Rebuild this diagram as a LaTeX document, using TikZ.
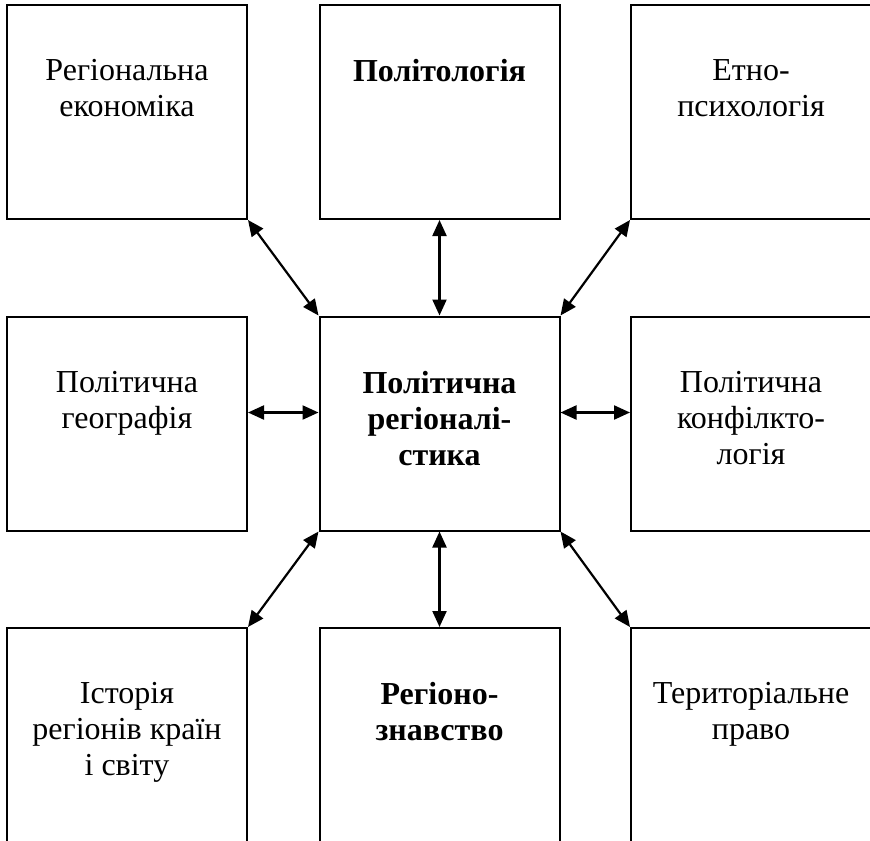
\documentclass[tikz,border=0pt]{standalone}
\usepackage{fontspec}
\setmainfont{Liberation Serif}
\usetikzlibrary{arrows.meta}
\usetikzlibrary{positioning}
\tikzset{
  fieldbox/.style={draw, line width=1pt, minimum width=120pt, minimum height=107pt, inner sep=0pt},
  fieldtext/.style={align=center, inner sep=0pt, font=\fontsize{16pt}{18pt}\selectfont},
  link/.style={line width=1.1pt, {Triangle[length=8pt,width=7pt]}-{Triangle[length=8pt,width=7pt]}}
}

\begin{document}
\begin{tikzpicture}[x=0.5pt,y=-0.5pt]
    \useasboundingbox (0,0) rectangle (870,840);

    \node[fieldbox] (econ) at (127,112) {};
    \node[fieldbox] (polit) at (439.5,112) {};
    \node[fieldbox] (ethno) at (751,112) {};
    \node[fieldbox] (geo) at (127,423.5) {};
    \node[fieldbox] (reg) at (439.5,423.5) {};
    \node[fieldbox] (conf) at (751,423.5) {};
    \node[fieldbox] (hist) at (127,735) {};
    \node[fieldbox] (stud) at (439.5,735) {};
    \node[fieldbox] (law) at (751,735) {};

    \node[fieldtext, below=27.5pt of econ.north] (econ-t) {Регіональна\\економіка};
    \node[fieldtext, below=27.5pt of polit.north] (polit-t) {\textbf{Політологія}};
    \node[fieldtext, below=27.5pt of ethno.north] (ethno-t) {Етно-\\психологія};
    \node[fieldtext, below=27.5pt of geo.north] (geo-t) {Політична\\географія};
    \node[fieldtext, below=27.5pt of reg.north] (reg-t) {\textbf{Політична}\\\textbf{регіоналі-}\\\textbf{стика}};
    \node[fieldtext, below=27.5pt of conf.north] (conf-t) {Політична\\конфілкто-\\логія};
    \node[fieldtext, below=27.5pt of hist.north] (hist-t) {Історія\\регіонів країн\\і світу};
    \node[fieldtext, below=27.5pt of stud.north] (stud-t) {\textbf{Регіоно-}\\\textbf{знавство}};
    \node[fieldtext, below=27.5pt of law.north] (law-t) {Територіальне\\право};

    \draw[link] (econ.south east) -- (reg.north west);
    \draw[link] (polit.south) -- (reg.north);
    \draw[link] (ethno.south west) -- (reg.north east);
    \draw[link] ([yshift=5.5pt]geo.east) -- ([yshift=5.5pt]reg.west);
    \draw[link] ([yshift=5.5pt]reg.east) -- ([yshift=5.5pt]conf.west);
    \draw[link] (reg.south west) -- (hist.north east);
    \draw[link] (reg.south) -- (stud.north);
    \draw[link] (reg.south east) -- (law.north west);
  \end{tikzpicture}
\end{document}
